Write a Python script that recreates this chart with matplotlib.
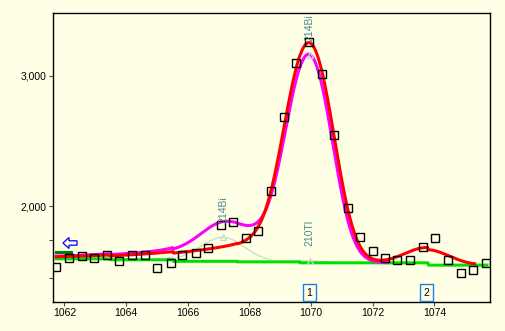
import math
import numpy as np
import matplotlib.pyplot as plt
from matplotlib.patches import Polygon
from matplotlib.ticker import FixedLocator, NullFormatter
import matplotlib.transforms as mtransforms

# measured spectrum (keV, counts)
energy = [1061.73, 1062.16, 1062.56, 1062.97, 1063.39, 1063.78, 1064.20, 1064.62,
          1065.01, 1065.44, 1065.82, 1066.25, 1066.67, 1067.07, 1067.48, 1067.90,
          1068.29, 1068.70, 1069.13, 1069.52, 1069.93, 1070.35, 1070.75, 1071.18,
          1071.60, 1071.99, 1072.41, 1072.80, 1073.22, 1073.64, 1074.03, 1074.45,
          1074.87, 1075.26, 1075.68]
counts = [1654, 1701, 1712, 1701, 1722, 1690, 1718, 1718,
          1649, 1675, 1722, 1729, 1755, 1886, 1908, 1810,
          1855, 2097, 2640, 3121, 3331, 3019, 2500, 1992,
          1817, 1739, 1701, 1695, 1692, 1760, 1815, 1692,
          1624, 1641, 1675]

# step background
bg_edges = [1061.73, 1063.48, 1065.52, 1067.60, 1069.64, 1073.79, 1075.70]
bg_levels = [1699, 1694, 1686, 1683, 1678, 1666]

# multiplet fit (magenta): 214Bi, 214Bi, 210Tl
mult_names = ['214Bi', '214Bi', '210Tl']
mult_centres = [1067.15, 1069.95, 1069.95]
mult_amps = [125, 1416, 10]
mult_sigmas = [0.70, 0.65, 0.45]
mult_tails = [0.10, 0.18, 0.0]
mult_ranges = [(1065.3, 1068.7), (1068.0, 1071.9), (1068.95, 1070.9)]

# single peak fit (red): peaks 1 and 2
peak_ids = ['1', '2']
red_centres = [1069.95, 1073.75]
red_amps = [1560, 82]
red_sigmas = [0.68, 0.70]
red_tails = [0.14, 0.0]

tail_slope = 2.74

roi_x = [1061.73, 1062.2]
roi_level = 1733


def background(x):
    idx = np.clip(np.searchsorted(bg_edges, x, side='right') - 1, 0, len(bg_levels) - 1)
    return np.array(bg_levels)[idx]


def peak(x, c, a, s, t):
    d = x - c
    g = np.exp(-d ** 2 / (2 * s ** 2))
    if t > 0:
        erfc = np.array([math.erfc(v) for v in d / (math.sqrt(2) * s) + s / (math.sqrt(2) * tail_slope)])
        g = g + t * np.exp(d / tail_slope) * 0.5 * erfc
    return a * g


bgc = '#ffffe6'
label_col = '#468c8c'
comp_col = '#c4dcc4'

plt.rcParams['font.family'] = ['Liberation Sans', 'DejaVu Sans']
fig = plt.figure(figsize=(5.05, 3.31), dpi=100, facecolor=bgc)
ax = fig.add_axes([0.1044, 0.0885, 0.8659, 0.8722], facecolor=bgc)

# individual components
for (lo, hi), c, a, s, t in zip(mult_ranges, mult_centres, mult_amps, mult_sigmas, mult_tails):
    xs = np.linspace(lo, hi, 300)
    ax.plot(xs, background(xs) + peak(xs, c, a, s, t), color=comp_col, lw=0.9, zorder=2)

# background
xb = np.linspace(bg_edges[0], bg_edges[-1], 1200)
ax.plot(xb, background(xb), color='#00e000', lw=2.2, zorder=3)
ax.plot(roi_x, [roi_level, roi_level], color='#008000', lw=2.2, zorder=3)

# multiplet fit
xm = np.linspace(energy[0], 1072.47, 800)
ym = background(xm) + sum(peak(xm, c, a, s, t)
                          for c, a, s, t in zip(mult_centres, mult_amps, mult_sigmas, mult_tails))
ax.plot(xm, ym, color='#ff00ff', lw=2.2, zorder=4)

# single peak fit
xr = np.linspace(energy[0], 1075.3, 1000)
yr = background(xr) + sum(peak(xr, c, a, s, t)
                          for c, a, s, t in zip(red_centres, red_amps, red_sigmas, red_tails))
ax.plot(xr, yr, color='#ff0000', lw=2.2, zorder=5)

# data
ax.plot(energy, counts, 's', ms=5.8, mfc='none', mec='black', mew=1.0, zorder=6)

# component apex markers and nuclide labels
for name, c, a, s, t in zip(mult_names, mult_centres, mult_amps, mult_sigmas, mult_tails):
    top = background(np.array([c]))[0] + peak(np.array([c]), c, a, s, t)[0]
    ax.plot([c], [top], '^', ms=5, mfc='none', mec=comp_col, mew=0.9, zorder=7)
    ax.annotate(name, (c, top), xytext=(0, 10.5), textcoords='offset points',
                rotation=90, ha='center', va='bottom', fontsize=7.5, color=label_col, zorder=8)

# peak number boxes
trans = mtransforms.blended_transform_factory(ax.transData, ax.transAxes)
for pid, c in zip(peak_ids, red_centres):
    ax.text(c, 0.031, pid, transform=trans, ha='center', va='center', fontsize=7.5,
            bbox=dict(boxstyle='square,pad=0.35', fc='none', ec='#1e7fe6', lw=1.0))

# hollow left arrow
arrow_px = [(63, 243), (69, 237.5), (69, 240.8), (77, 240.8), (77, 245.2), (69, 245.2), (69, 248.5)]
fig.add_artist(Polygon([(px / 505, 1 - py / 331) for px, py in arrow_px], closed=True,
                       fc=bgc, ec='#0000ff', lw=0.9, transform=fig.transFigure))

ax.set_yscale('log')
ax.set_xlim(1061.62, 1075.80)
ax.set_ylim(1487, 3648)
ax.set_xticks([1062, 1064, 1066, 1068, 1070, 1072, 1074])
ax.set_yticks([2000, 3000])
ax.set_yticklabels(['2,000', '3,000'])
ax.yaxis.set_minor_locator(FixedLocator([1600, 1800]))
ax.yaxis.set_minor_formatter(NullFormatter())
ax.tick_params(axis='both', which='both', direction='out', length=3, width=0.8,
               colors='#505050', labelcolor='black', labelsize=7.5, pad=1.5)
for sp in ax.spines.values():
    sp.set_color('black')
    sp.set_linewidth(1.0)

plt.savefig('out.png', dpi=100, facecolor=bgc)
